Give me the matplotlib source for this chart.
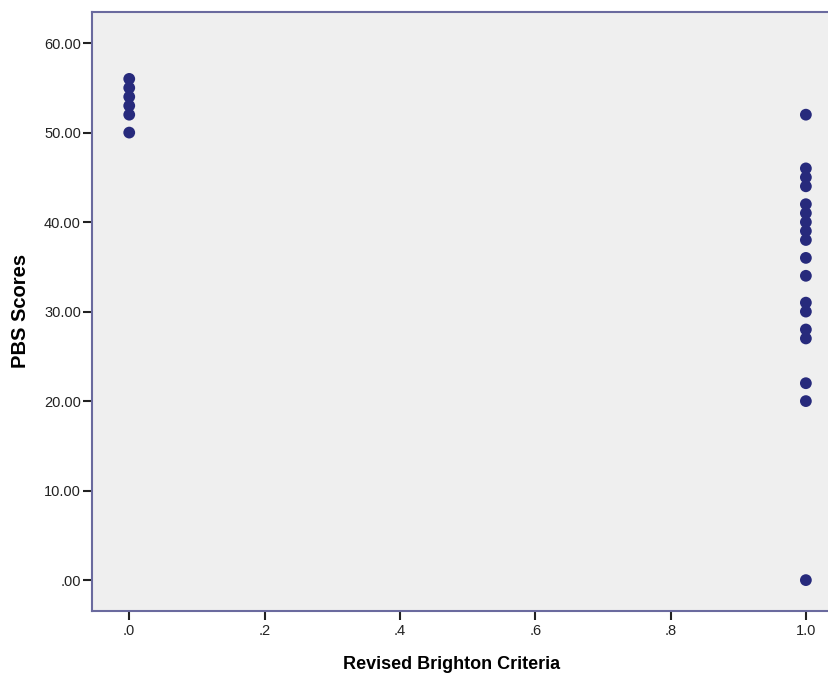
import numpy as np
import matplotlib
matplotlib.use("Agg")
import matplotlib.pyplot as plt
from matplotlib.ticker import FuncFormatter

# PBS scores per group of the revised Brighton criteria (0 = no, 1 = yes)
brighton_neg = [56, 55, 54, 53, 52, 50]
brighton_pos = [52, 46, 45, 44, 42, 41, 40, 39, 38, 36, 34,
                31, 30, 28, 27, 22, 20, 0]

x_ticks = [0.0, 0.2, 0.4, 0.6, 0.8, 1.0]
y_ticks = [0, 10, 20, 30, 40, 50, 60]

x = [0.0] * len(brighton_neg) + [1.0] * len(brighton_pos)
y = brighton_neg + brighton_pos

plt.rcParams['font.family'] = ['Liberation Sans', 'DejaVu Sans']

W, H = 829, 673
fig = plt.figure(figsize=(W / 100, H / 100), dpi=100)
ax = fig.add_axes([0.111, 0.092, 0.906, 0.890])
ax.set_facecolor('#efefef')

ax.scatter(x, y, s=72, color='#272a7c', edgecolors='none', zorder=3)

ax.set_xlim(-0.055, 1.055)
ax.set_ylim(-3.46, 63.46)


def strip_zero(fmt):
    def f(v, pos):
        s = fmt.format(v)
        return s[1:] if s.startswith('0') else s
    return f


ax.set_xticks(x_ticks)
ax.set_yticks(y_ticks)
ax.xaxis.set_major_formatter(FuncFormatter(strip_zero('{:.1f}')))
ax.yaxis.set_major_formatter(FuncFormatter(strip_zero('{:.2f}')))
ax.tick_params(direction='out', length=6.5, width=1.5, color='#222222',
               labelsize=10.5, labelcolor='#222222')
ax.tick_params(axis='x', pad=3)
ax.tick_params(axis='y', pad=1.5)

for side in ['left', 'bottom', 'top', 'right']:
    ax.spines[side].set_color('#6a6a9e')
    ax.spines[side].set_linewidth(1.5)

# axis titles placed in figure coordinates
fig.text(452 / W, 1 - 669 / H, 'Revised Brighton Criteria', fontsize=13,
         fontweight='bold', ha='center', va='baseline')
fig.text(20.5 / W, 1 - 311 / H, 'PBS Scores', fontsize=14.5,
         fontweight='bold', ha='center', va='center', rotation=90)

fig.savefig('out.png', dpi=100)
